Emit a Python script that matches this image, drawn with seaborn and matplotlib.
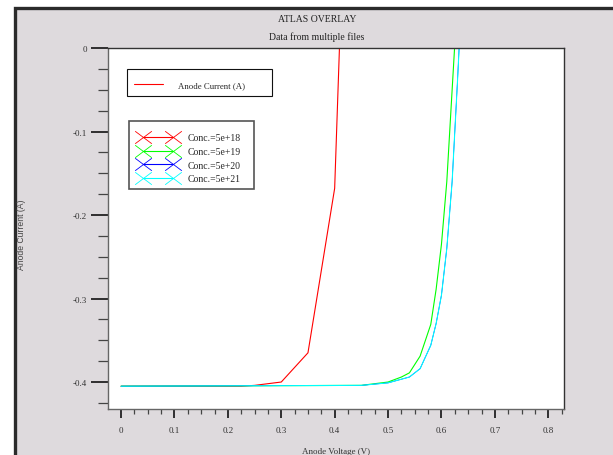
import numpy as np
import pandas as pd
import seaborn as sns
import matplotlib.pyplot as plt
from matplotlib.lines import Line2D
from matplotlib.patches import Rectangle
from matplotlib.path import Path
from matplotlib.ticker import MultipleLocator, FixedLocator

# Anode current vs. anode voltage for four doping concentrations
labels = ["Conc.=5e+18", "Conc.=5e+19", "Conc.=5e+20", "Conc.=5e+21"]
colors = ["#ff0000", "#00ff00", "#0000ff", "#00ffff"]

v_5e18 = [0.0, 0.20, 0.225, 0.25, 0.30, 0.35, 0.40, 0.45]
i_5e18 = [-0.405, -0.405, -0.405, -0.404, -0.400, -0.365, -0.168, 0.77]

v_5e19 = [0.0, 0.45, 0.50, 0.525, 0.54, 0.56, 0.58, 0.59, 0.60, 0.61, 0.62, 0.63]
i_5e19 = [-0.405, -0.404, -0.400, -0.394, -0.389, -0.369, -0.331, -0.289,
          -0.235, -0.160, -0.050, 0.060]

v_5e20 = [0.0, 0.45, 0.50, 0.54, 0.56, 0.58, 0.59, 0.60, 0.61, 0.62, 0.63, 0.64]
i_5e20 = [-0.405, -0.404, -0.401, -0.394, -0.384, -0.356, -0.330, -0.296,
          -0.240, -0.160, -0.040, 0.090]

v_5e21 = [0.0, 0.45, 0.50, 0.54, 0.56, 0.58, 0.59, 0.60, 0.61, 0.62, 0.63, 0.64]
i_5e21 = [-0.405, -0.404, -0.401, -0.394, -0.384, -0.356, -0.330, -0.296,
          -0.240, -0.160, -0.040, 0.090]

x_ticks = [0, 0.1, 0.2, 0.3, 0.4, 0.5, 0.6, 0.7, 0.8]
x_ticklabels = ["0", "0.1", "0.2", "0.3", "0.4", "0.5", "0.6", "0.7", "0.8"]
y_ticks = [0, -0.1, -0.2, -0.3, -0.4]
y_ticklabels = ["0", "-0.1", "-0.2", "-0.3", "-0.4"]

series = [(v_5e18, i_5e18), (v_5e19, i_5e19), (v_5e20, i_5e20), (v_5e21, i_5e21)]
widths = [0.8, 0.8, 0.5, 0.8]

sns.set_theme(style="ticks")
plt.rcParams["font.family"] = ["Liberation Serif", "DejaVu Serif"]

BG = "#dedadd"
W, H = 613, 456
fig = plt.figure(figsize=(W / 100, H / 100), dpi=100, facecolor="white")


def fx(px):
    return px / W


def fy(py):
    return 1 - py / H


# grey panel with a dark frame on the top and left
fig.patches.append(Rectangle((fx(14.5), -0.1), 1.2, fy(8.5) + 0.1,
                             transform=fig.transFigure, facecolor=BG,
                             edgecolor="#2b2b2b", linewidth=2.4, zorder=-10))

ax = fig.add_axes([fx(108), fy(410), 456 / W, 361 / H])
ax.set_facecolor("white")

for (v, i), c, lw in zip(series, colors, widths):
    df = pd.DataFrame({"V": v, "I": i})
    sns.lineplot(data=df, x="V", y="I", ax=ax, color=c, linewidth=lw,
                 sort=False, estimator=None, legend=False)

ax.set_xlim(-0.0245, 0.8295)
ax.set_ylim(-0.4323, 0.0)

ax.xaxis.set_major_locator(FixedLocator(x_ticks))
ax.set_xticklabels(x_ticklabels)
ax.yaxis.set_major_locator(FixedLocator(y_ticks))
ax.set_yticklabels(y_ticklabels)
ax.xaxis.set_minor_locator(MultipleLocator(0.025))
ax.yaxis.set_minor_locator(MultipleLocator(0.025))

ax.tick_params(axis="x", which="major", direction="out", length=6.5, width=1.3,
               color="#222222", labelsize=6.5, labelcolor="#333333", pad=6)
ax.tick_params(axis="x", which="minor", direction="out", length=3.5, width=0.9,
               color="#444444")
ax.tick_params(axis="y", which="major", direction="out", length=12, width=1.3,
               color="#222222", labelsize=6.5, labelcolor="#333333", pad=3)
ax.tick_params(axis="y", which="minor", direction="out", length=7, width=0.9,
               color="#444444")

for side in ["top", "right"]:
    ax.spines[side].set_visible(True)
    ax.spines[side].set_color("#333333")
    ax.spines[side].set_linewidth(1.0)
for side in ["left", "bottom"]:
    ax.spines[side].set_color("#666666")
    ax.spines[side].set_linewidth(1.0)

ax.set_xlabel("")
ax.set_ylabel("")
fig.text(fx(336), fy(452), "Anode Voltage (V)", ha="center", va="center",
         fontsize=6.5, color="#333333")
fig.text(fx(21), fy(235), "Anode Current (A)", ha="center", va="center",
         rotation=90, fontsize=6.2, color="#444444",
         family=["Liberation Sans", "DejaVu Sans"], zorder=5)

fig.text(fx(317), fy(19), "ATLAS OVERLAY", ha="center", va="center",
         fontsize=7, color="#222222")
fig.text(fx(317), fy(37), "Data from multiple files", ha="center",
         va="center", fontsize=7, color="#222222")

# legend boxes
fig.patches.append(Rectangle((fx(127), fy(97)), 145 / W, 27 / H,
                             transform=fig.transFigure, facecolor="white",
                             edgecolor="#111111", linewidth=0.8, zorder=4))
fig.patches.append(Rectangle((fx(128.5), fy(189.5)), 125.5 / W, 67.5 / H,
                             transform=fig.transFigure, facecolor="white",
                             edgecolor="#555555", linewidth=1.2, zorder=4))

# quantity legend
fs1 = 6.3
em1 = fs1 * 1.389
leg1 = fig.legend(handles=[Line2D([], [], color="#ff0000", linewidth=0.8)],
                  labels=["Anode Current (A)"], loc="center left",
                  bbox_to_anchor=(fx(134), fy(86)),
                  bbox_transform=fig.transFigure, fontsize=fs1,
                  frameon=False, handlelength=29 / em1,
                  handletextpad=15 / em1,
                  borderpad=0, borderaxespad=0)
leg1.set_zorder(6)

# concentration legend with X markers at both ends of each line
fs2 = 7
em2 = fs2 * 1.389
xmark = Path([(-1, -0.75), (1, 0.75), (-1, 0.75), (1, -0.75)],
             [Path.MOVETO, Path.LINETO, Path.MOVETO, Path.LINETO])
handles = [Line2D([], [], color=c, linewidth=0.8, marker=xmark,
                  markersize=12, markeredgewidth=0.6, fillstyle="none")
           for c in colors]
leg2 = fig.legend(handles=handles, labels=labels, loc="upper left",
                  bbox_to_anchor=(fx(143 - 0.3 * em2), fy(134.5)),
                  bbox_transform=fig.transFigure, fontsize=fs2, numpoints=2,
                  frameon=False, handlelength=(30 + 0.6 * em2) / em2,
                  handletextpad=(15 - 0.3 * em2) / em2,
                  borderpad=0, borderaxespad=0, labelspacing=0.47)
leg2.set_zorder(6)

fig.savefig("out.png", dpi=100, facecolor=fig.get_facecolor())
